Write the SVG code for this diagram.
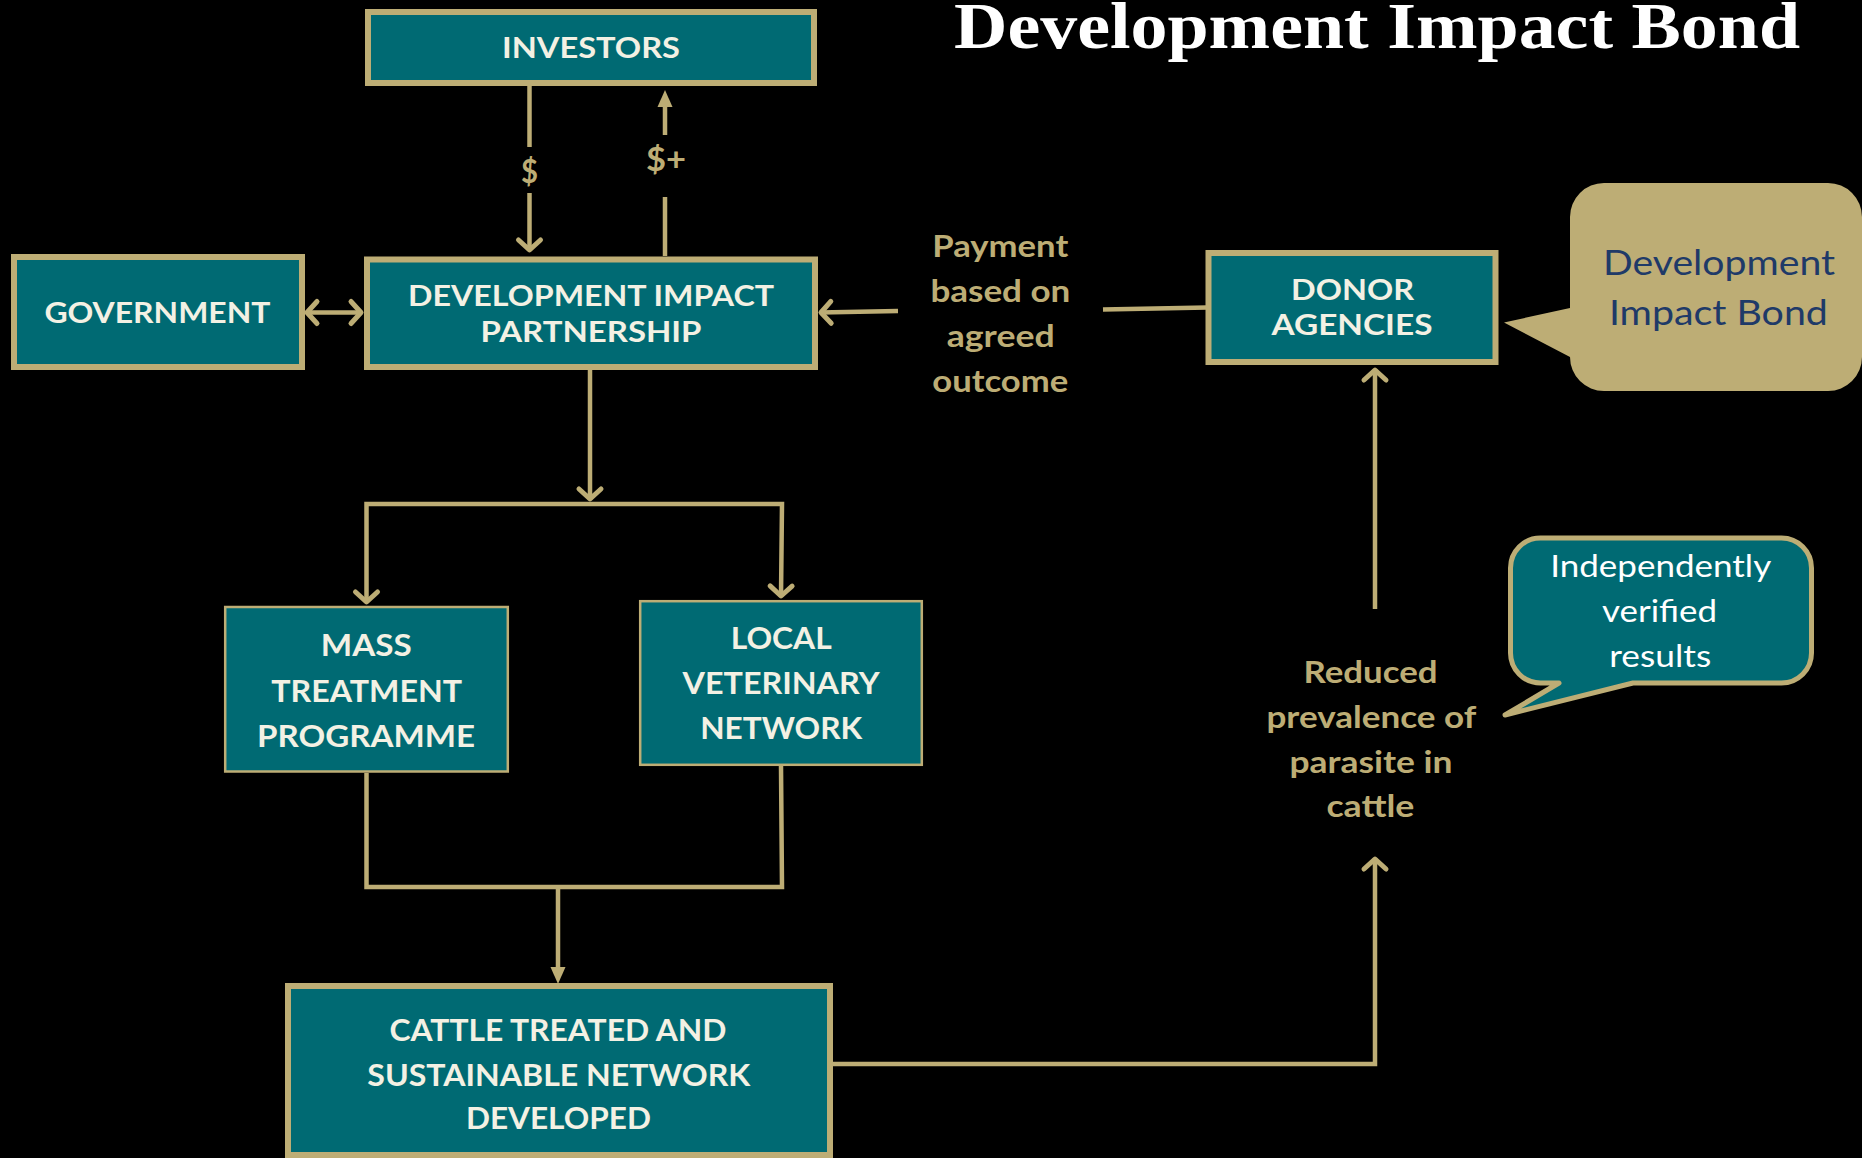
<svg xmlns="http://www.w3.org/2000/svg" width="1862" height="1158" viewBox="0 0 1862 1158">
  <style>
    .box { fill: #006A73; stroke: #BDAD75; stroke-width: 6; }
    .thin { stroke-width: 2.5; }
    .hd { font-family: Lato, "Open Sans", sans-serif; font-weight: 700; font-size: 28px; fill: #F3F1E4; text-anchor: middle; }
    .bt { font-family: Lato, "Open Sans", sans-serif; font-weight: 700; font-size: 31px; fill: #F3F1E4; text-anchor: middle; }
    .lbl { font-family: Lato, "Open Sans", sans-serif; font-weight: 700; font-size: 31px; fill: #BDAD75; text-anchor: middle; }
    .cur { font-family: Lato, "Open Sans", sans-serif; font-weight: 700; font-size: 33px; fill: #BDAD75; text-anchor: middle; }
    .cl1 { font-family: Lato, "Open Sans", sans-serif; font-weight: 400; font-size: 35px; fill: #1F3A68; text-anchor: middle; }
    .cl2 { font-family: Lato, "Open Sans", sans-serif; font-weight: 400; font-size: 31px; fill: #FFFFFF; text-anchor: middle; }
    .title { font-family: "Liberation Serif", "Times New Roman", serif; font-weight: 700; font-size: 66px; fill: #FFFFFF; }
    .ln { fill: none; stroke: #BDAD75; stroke-width: 4.5; }
  </style>
  <defs>
    <marker id="chev" markerUnits="userSpaceOnUse" viewBox="-20 -15 30 30" markerWidth="30" markerHeight="30" refX="0" refY="0" orient="auto-start-reverse" overflow="visible">
      <path d="M-11,-11 L-1,0 L-11,11" fill="none" stroke="#BDAD75" stroke-width="5" stroke-linecap="round" stroke-linejoin="round"/>
    </marker>
    <marker id="tri" markerUnits="userSpaceOnUse" viewBox="-2 -10 20 20" markerWidth="20" markerHeight="20" refX="0" refY="0" orient="auto" overflow="visible">
      <path d="M-1,-7.5 L16,0 L-1,7.5 Z" fill="#BDAD75"/>
    </marker>
  </defs>
  <rect x="0" y="0" width="1862" height="1158" fill="#000000"/>

  <text class="title" x="954" y="48" textLength="846" lengthAdjust="spacingAndGlyphs">Development Impact Bond</text>

  <g id="connectors">
    <line class="ln" x1="529.5" y1="86" x2="529.5" y2="147"/>
    <line class="ln" x1="529.5" y1="193" x2="529.5" y2="251" marker-end="url(#chev)"/>
    <text class="cur" x="529.5" y="183" textLength="17" lengthAdjust="spacingAndGlyphs">$</text>
    <line class="ln" x1="665" y1="256" x2="665" y2="197"/>
    <line class="ln" x1="665" y1="135" x2="665" y2="106" marker-end="url(#tri)"/>
    <text class="cur" x="666" y="171" textLength="40" lengthAdjust="spacingAndGlyphs">$+</text>
    <line class="ln" x1="306" y1="312.5" x2="362" y2="312.5" marker-start="url(#chev)" marker-end="url(#chev)"/>
    <line class="ln" x1="898" y1="311" x2="820" y2="312.5" marker-end="url(#chev)"/>
    <line class="ln" x1="1103" y1="309.5" x2="1207" y2="307.5"/>
    <line class="ln" x1="590" y1="370" x2="590" y2="500" marker-end="url(#chev)"/>
    <path class="ln" d="M590,504 H366.5 V603" marker-end="url(#chev)"/>
    <path class="ln" d="M590,504 H782 L781,597" marker-end="url(#chev)"/>
    <path class="ln" d="M366.5,773 V887 H558"/>
    <path class="ln" d="M781,766 L782,887 H558"/>
    <line class="ln" x1="558" y1="887" x2="558" y2="968" marker-end="url(#tri)"/>
    <path class="ln" d="M833,1064 H1375 V858" marker-end="url(#chev)"/>
    <line class="ln" x1="1375" y1="609" x2="1375" y2="369" marker-end="url(#chev)"/>
  </g>

  <g id="investors">
    <rect class="box" x="368" y="12" width="446" height="71"/>
    <text class="hd" x="591" y="58.3" textLength="178" lengthAdjust="spacingAndGlyphs">INVESTORS</text>
  </g>

  <g id="dip">
    <rect class="box" x="367" y="259.5" width="448" height="107.5"/>
    <text class="hd" x="591" y="306" textLength="366" lengthAdjust="spacingAndGlyphs">DEVELOPMENT IMPACT</text>
    <text class="hd" x="591" y="341.7" textLength="221" lengthAdjust="spacingAndGlyphs">PARTNERSHIP</text>
  </g>

  <g id="government">
    <rect class="box" x="14" y="257" width="288" height="110"/>
    <text class="hd" x="157.4" y="322.7" textLength="226" lengthAdjust="spacingAndGlyphs">GOVERNMENT</text>
  </g>

  <g id="donor">
    <rect class="box" x="1208.5" y="253" width="287" height="109"/>
    <text class="hd" x="1352.5" y="300" textLength="123" lengthAdjust="spacingAndGlyphs">DONOR</text>
    <text class="hd" x="1352" y="335" textLength="161" lengthAdjust="spacingAndGlyphs">AGENCIES</text>
  </g>

  <g id="payment-label">
    <text class="lbl" x="1000.3" y="256.7" textLength="136" lengthAdjust="spacingAndGlyphs">Payment</text>
    <text class="lbl" x="1000.4" y="301.7" textLength="140" lengthAdjust="spacingAndGlyphs">based on</text>
    <text class="lbl" x="1000.7" y="346.7" textLength="108" lengthAdjust="spacingAndGlyphs">agreed</text>
    <text class="lbl" x="1000.3" y="391.7" textLength="136" lengthAdjust="spacingAndGlyphs">outcome</text>
  </g>

  <g id="dib-callout">
    <path d="M1604,183 H1828 A34 34 0 0 1 1862 217 V357 A34 34 0 0 1 1828 391 H1604 A34 34 0 0 1 1570 357 L1504 322.5 L1570 308 V217 A34 34 0 0 1 1604 183 Z" fill="#BDAD75"/>
    <text class="cl1" x="1719" y="275" textLength="232" lengthAdjust="spacingAndGlyphs">Development</text>
    <text class="cl1" x="1718.4" y="325" textLength="219" lengthAdjust="spacingAndGlyphs">Impact Bond</text>
  </g>

  <g id="mass">
    <rect class="box thin" x="225.2" y="607" width="282.6" height="164.5"/>
    <text class="bt" x="366.3" y="656" textLength="91" lengthAdjust="spacingAndGlyphs">MASS</text>
    <text class="bt" x="366.7" y="701.7" textLength="191" lengthAdjust="spacingAndGlyphs">TREATMENT</text>
    <text class="bt" x="366" y="746.7" textLength="218" lengthAdjust="spacingAndGlyphs">PROGRAMME</text>
  </g>

  <g id="local">
    <rect class="box thin" x="640.2" y="601.2" width="281.6" height="163.6"/>
    <text class="bt" x="781.2" y="649.3" textLength="101" lengthAdjust="spacingAndGlyphs">LOCAL</text>
    <text class="bt" x="781.1" y="694.3" textLength="197" lengthAdjust="spacingAndGlyphs">VETERINARY</text>
    <text class="bt" x="781.2" y="739.3" textLength="162" lengthAdjust="spacingAndGlyphs">NETWORK</text>
  </g>

  <g id="cattle">
    <rect class="box" x="288" y="986" width="542" height="169"/>
    <text class="bt" x="558" y="1040.7" textLength="337" lengthAdjust="spacingAndGlyphs">CATTLE TREATED AND</text>
    <text class="bt" x="558.8" y="1085.7" textLength="383" lengthAdjust="spacingAndGlyphs">SUSTAINABLE NETWORK</text>
    <text class="bt" x="558.4" y="1129.3" textLength="185" lengthAdjust="spacingAndGlyphs">DEVELOPED</text>
  </g>

  <g id="reduced-label">
    <text class="lbl" x="1370.5" y="683.3" textLength="134" lengthAdjust="spacingAndGlyphs">Reduced</text>
    <text class="lbl" x="1371.4" y="728.3" textLength="210" lengthAdjust="spacingAndGlyphs">prevalence of</text>
    <text class="lbl" x="1371" y="773.3" textLength="163" lengthAdjust="spacingAndGlyphs">parasite in</text>
    <text class="lbl" x="1370.4" y="816.7" textLength="88" lengthAdjust="spacingAndGlyphs">cattle</text>
  </g>

  <g id="verified-callout">
    <path d="M1540.5,538 H1781.5 A30 30 0 0 1 1811.5 568 V653 A30 30 0 0 1 1781.5 683 H1633 L1505 715 L1559 683 H1540.5 A30 30 0 0 1 1510.5 653 V568 A30 30 0 0 1 1540.5 538 Z" fill="#006A73" stroke="#BDAD75" stroke-width="5" stroke-linejoin="round"/>
    <text class="cl2" x="1660.7" y="577.3" textLength="221" lengthAdjust="spacingAndGlyphs">Independently</text>
    <text class="cl2" x="1659.6" y="621.7" textLength="115" lengthAdjust="spacingAndGlyphs">verified</text>
    <text class="cl2" x="1660.2" y="666.7" textLength="102" lengthAdjust="spacingAndGlyphs">results</text>
  </g>
</svg>
